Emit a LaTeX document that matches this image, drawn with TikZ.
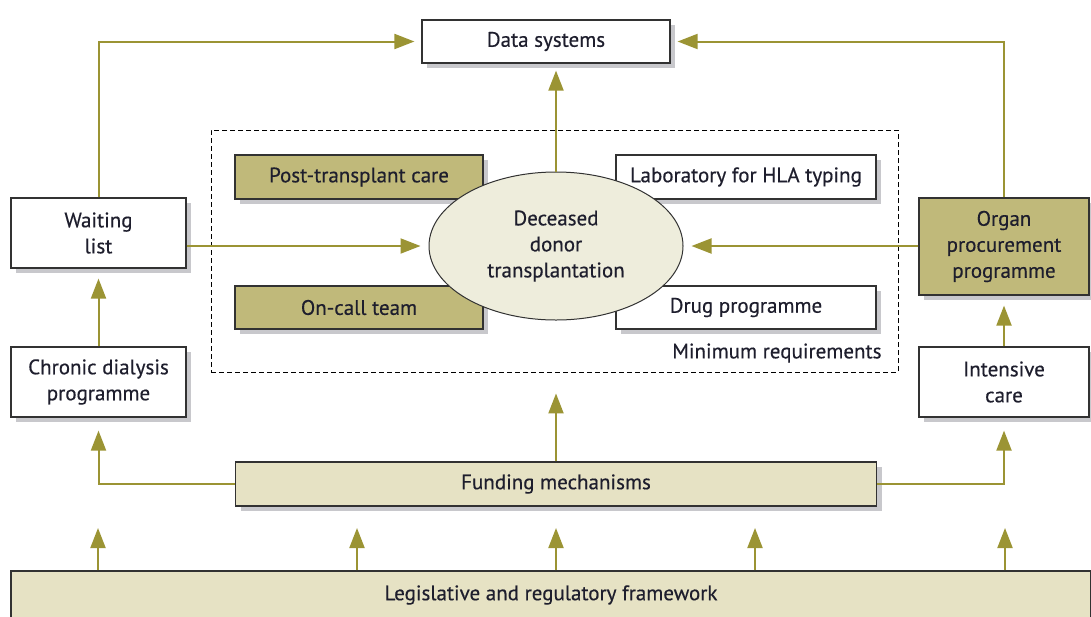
\documentclass[tikz,border=0pt]{standalone}
\usepackage{fontspec}
\setmainfont{PT Sans}[FakeBold=0.4]
\usetikzlibrary{arrows.meta}
\usetikzlibrary{shapes.geometric}
\usetikzlibrary{positioning}
\definecolor{olive}{RGB}{155,148,52}
\definecolor{olivebox}{RGB}{192,185,122}
\definecolor{palebox}{RGB}{230,226,196}
\definecolor{paleoval}{RGB}{238,237,220}
\definecolor{edge}{RGB}{50,50,50}
\definecolor{ink}{RGB}{30,30,45}
\definecolor{shade}{RGB}{200,200,204}

\begin{document}
\begin{tikzpicture}[x=1pt, y=-1pt, font=\fontsize{21}{26}\selectfont\color{ink},
  box/.style={rectangle, draw=edge, line width=1.2pt, fill=white, align=center, inner sep=0pt, preaction={draw=none, fill=shade, transform canvas={xshift=5pt, yshift=-5pt}}},
  darkbox/.style={box, fill=olivebox},
  lightbox/.style={box, fill=palebox},
  oval/.style={ellipse, draw=edge, line width=1pt, fill=paleoval, align=center, inner sep=0pt},
  dashbox/.style={rectangle, draw=black, dash pattern=on 5pt off 3pt, line width=0.9pt, inner sep=0pt},
  arrow/.style={olive, line width=2pt, -{Triangle[length=20pt, width=15pt]}},
  line/.style={olive, line width=2pt}]
\useasboundingbox (0,0) rectangle (1091,616);
\node [dashbox, minimum width=687pt, minimum height=242pt] (minreq) at (554.5,251) {};
\node [anchor=east] (minlabel) at (885,353) {Minimum requirements};
\node [box, minimum width=248pt, minimum height=43pt] (data) at (546,41.5) {Data systems};
\node [darkbox, minimum width=248pt, minimum height=44pt] (post) at (359,177) {Post-transplant care};
\node [box, minimum width=260pt, minimum height=44pt] (lab) at (746,177) {Laboratory for HLA typing};
\node [darkbox, minimum width=248pt, minimum height=43pt] (oncall) at (359,307.5) {On-call team};
\node [box, minimum width=260pt, minimum height=43pt] (drug) at (746,307.5) {Drug programme};
\node [oval, minimum width=254pt, minimum height=148pt] (ddt) at (556,246) {Deceased\\donor\\transplantation};
\node [box, minimum width=175pt, minimum height=70pt] (waiting) at (98.5,233) {Waiting\\list};
\node [box, minimum width=175pt, minimum height=70pt] (chronic) at (98.5,382) {Chronic dialysis\\programme};
\node [darkbox, minimum width=170pt, minimum height=97pt] (organ) at (1004,246.5) {Organ\\procurement\\programme};
\node [box, minimum width=170pt, minimum height=70pt] (intensive) at (1004,382) {Intensive\\care};
\node [lightbox, minimum width=641pt, minimum height=44pt] (funding) at (556,484) {Funding mechanisms};
\node [lightbox, minimum width=1080pt, minimum height=48pt] (legis) at (551,595) {Legislative and regulatory framework};
% links to the data systems
\draw [arrow] (waiting.north) |- ([xshift=-7pt]data.west);
\draw [arrow] (organ.north) |- ([xshift=7pt]data.east);
\draw [arrow] (ddt.north) -- ([yshift=-7pt]ddt.north |- data.south);
% into the transplantation
\draw [arrow] (waiting.east |- ddt.west) -- ([xshift=-8pt]ddt.west);
\draw [arrow] (organ.west |- ddt.east) -- ([xshift=8pt]ddt.east);
\draw [arrow] (chronic.north) -- ([yshift=-10pt]waiting.south);
\draw [arrow] (intensive.north) -- ([yshift=-10pt]organ.south);
% funding
\draw [arrow] (funding.west) -| ([yshift=-13pt]chronic.south);
\draw [arrow] (funding.east) -| ([yshift=-13pt]intensive.south);
\draw [arrow] (funding.north) -- ([yshift=-21pt]funding.north |- minreq.south);
% legislation
\foreach \x [count=\i] in {98,357,556,755,1005} {
  \coordinate (up\i) at (\x,528);
  \draw [arrow] (legis.north -| up\i) -- (up\i);
}
\end{tikzpicture}
\end{document}
